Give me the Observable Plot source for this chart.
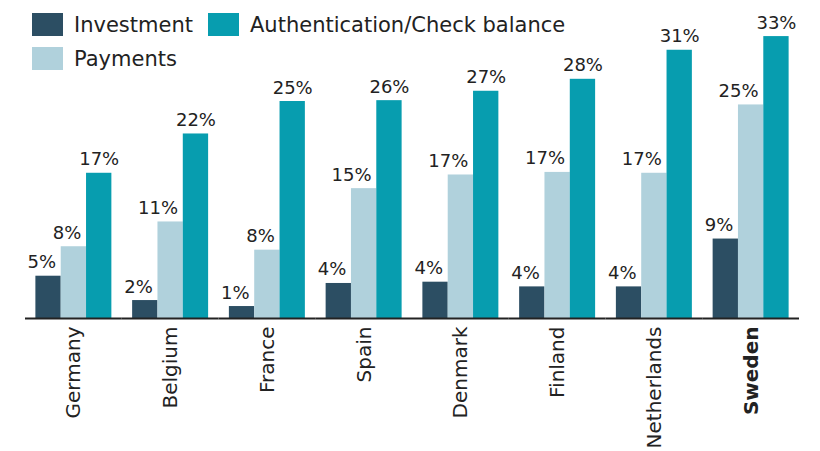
<!DOCTYPE html>
<html>
<head>
<meta charset="utf-8">
<script src="https://cdn.jsdelivr.net/npm/d3@7"></script>
<script src="https://cdn.jsdelivr.net/npm/@observablehq/plot@0.6"></script>
<style>
  body { margin: 0; background: #fff; }
  #wrap { position: relative; width: 820px; height: 451px; font-family: "DejaVu Sans", sans-serif; }
  #legend { position: absolute; left: 32px; top: 13px; display: grid; grid-template-columns: 176px auto; row-gap: 11px; }
  .item { display: flex; align-items: center; height: 23px; font-size: 21px; color: #222; }
  .sw { width: 31px; height: 23px; margin-right: 11px; flex: none; }
</style>
</head>
<body>
<div id="wrap"></div>
<script>
const countries = ["Germany", "Belgium", "France", "Spain", "Denmark", "Finland", "Netherlands", "Sweden"];
const seriesNames = ["Investment", "Payments", "Authentication/Check balance"];
const seriesColors = ["#2c4e63", "#b0d1dc", "#079daf"];
const investment = [4.95, 2.1, 1.4, 4.1, 4.25, 3.7, 3.7, 9.3];
const payments = [8.4, 11.3, 8.0, 15.2, 16.8, 17.1, 17.0, 25.0];
const authentication = [17.0, 21.6, 25.4, 25.5, 26.6, 28.0, 31.4, 33.0];
const investmentLabels = ["5%", "2%", "1%", "4%", "4%", "4%", "4%", "9%"];
const paymentsLabels = ["8%", "11%", "8%", "15%", "17%", "17%", "17%", "25%"];
const authenticationLabels = ["17%", "22%", "25%", "26%", "27%", "28%", "31%", "33%"];
const boldCountry = "Sweden";

const valuesBySeries = [investment, payments, authentication];
const labelsBySeries = [investmentLabels, paymentsLabels, authenticationLabels];
const data = [];
countries.forEach((c, i) => {
  seriesNames.forEach((s, j) => {
    data.push({country: c, series: s, value: valuesBySeries[j][i], label: labelsBySeries[j][i]});
  });
});
const auth = seriesNames[2];

const chart = Plot.plot({
  width: 820,
  height: 451,
  marginLeft: 25,
  marginRight: 21,
  marginTop: 19,
  marginBottom: 133,
  style: {fontFamily: "DejaVu Sans, sans-serif", fontSize: "20px", color: "#222", background: "transparent", overflow: "visible"},
  fx: {domain: countries, padding: 0, round: false, label: null, axis: "bottom", tickRotate: -90, tickSize: 0, tickPadding: 8},
  x: {domain: seriesNames, paddingInner: 0, paddingOuter: 0.41, round: false, axis: null},
  y: {domain: [0, 35], axis: null},
  color: {domain: seriesNames, range: seriesColors},
  marks: [
    Plot.barY(data, {fx: "country", x: "series", y: "value", fill: "series", inset: 0}),
    Plot.text(data.filter(d => d.series !== auth), {fx: "country", x: "series", y: "value", text: "label", textAnchor: "end", dx: 7.5, dy: -8, lineAnchor: "bottom", fontSize: 18, fill: "#222"}),
    Plot.text(data.filter(d => d.series === auth), {fx: "country", x: "series", y: "value", text: "label", textAnchor: "middle", dx: 0, dy: -8, lineAnchor: "bottom", fontSize: 18, fill: "#222"}),
    Plot.ruleY([0], {stroke: "#222", strokeWidth: 1.8})
  ]
});

chart.querySelectorAll("text").forEach(t => {
  if (t.textContent === boldCountry) t.setAttribute("font-weight", "bold");
});

const wrap = document.getElementById("wrap");
wrap.appendChild(chart);

const legend = document.createElement("div");
legend.id = "legend";
const order = [0, 2, 1];
order.forEach(k => {
  const item = document.createElement("div");
  item.className = "item";
  const sw = document.createElement("span");
  sw.className = "sw";
  sw.style.background = seriesColors[k];
  item.appendChild(sw);
  item.appendChild(document.createTextNode(seriesNames[k]));
  legend.appendChild(item);
});
wrap.appendChild(legend);
</script>
</body>
</html>
